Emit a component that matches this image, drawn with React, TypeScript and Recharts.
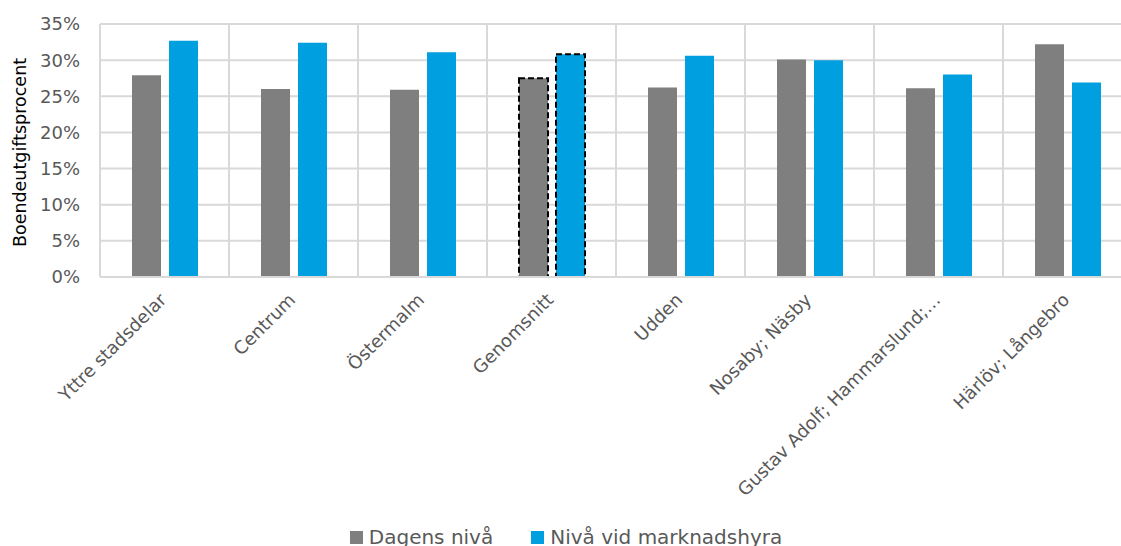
import React from "react";
import {
  BarChart,
  Bar,
  XAxis,
  YAxis,
  CartesianGrid,
  Legend,
  Cell,
} from "recharts";

// Districts along the category axis
const districts = [
  "Yttre stadsdelar",
  "Centrum",
  "Östermalm",
  "Genomsnitt",
  "Udden",
  "Nosaby; Näsby",
  "Gustav Adolf; Hammarslund;…",
  "Härlöv; Långebro",
];

// Housing cost share (%) at today's level
const dagensNiva = [27.9, 26.0, 25.9, 27.5, 26.2, 30.1, 26.1, 32.2];

// Housing cost share (%) at market rent
const marknadshyra = [32.7, 32.4, 31.1, 30.8, 30.6, 30.0, 28.0, 26.9];

const yTicks = [0, 5, 10, 15, 20, 25, 30, 35];

const highlighted = "Genomsnitt";

const seriesNames = ["Dagens nivå", "Nivå vid marknadshyra"];
const seriesColors = ["#7f7f7f", "#009fdf"];

const data = districts.map((name, i) => ({
  name,
  dagens: dagensNiva[i],
  marknad: marknadshyra[i],
}));

const FONT = "'DejaVu Sans', Verdana, sans-serif";

// Vertical grid lines sit on the category band edges, not the band centres
const bandEdges = (props: any) => {
  const { xAxis, offset } = props;
  const s = xAxis && xAxis.scale;
  const apply = (v: string): number | undefined => {
    if (!s) return undefined;
    if (typeof s === "function") return s(v);
    if (typeof s.map === "function") return s.map(v);
    if (typeof s.apply === "function") return s.apply(v);
    return undefined;
  };
  const bw =
    s && typeof s.bandwidth === "function" ? (s.bandwidth() as number) : undefined;
  const starts = districts.map((d) => apply(d));
  if (bw !== undefined && starts.every((p) => typeof p === "number" && isFinite(p))) {
    const st = starts as number[];
    return [...st, st[st.length - 1] + bw];
  }
  const step = offset.width / districts.length;
  return [
    ...districts.map((_, i) => offset.left + i * step),
    offset.left + offset.width,
  ];
};

const AngledTick = (props: any) => {
  const { x, y, payload } = props;
  const ax = x + 3;
  const ay = y + 16;
  return (
    <text
      x={ax}
      y={ay}
      transform={`rotate(-45 ${ax} ${ay})`}
      textAnchor="end"
      fill="#595959"
      fontSize={18}
      fontFamily={FONT}
    >
      {payload.value}
    </text>
  );
};

const LegendContent = () => (
  <div
    style={{
      display: "flex",
      justifyContent: "center",
      alignItems: "center",
      fontFamily: FONT,
      fontSize: 20,
      color: "#595959",
      lineHeight: "24px",
    }}
  >
    {seriesNames.map((n, i) => (
      <div
        key={n}
        style={{
          display: "flex",
          alignItems: "center",
          marginRight: i === 0 ? 38 : 0,
        }}
      >
        <span
          style={{
            display: "inline-block",
            width: 13,
            height: 13,
            background: seriesColors[i],
            marginRight: 6,
          }}
        />
        <span>{n}</span>
      </div>
    ))}
  </div>
);

export default function App() {
  return (
    <div
      style={{
        position: "absolute",
        left: 0,
        top: 0,
        width: 1121,
        height: 546,
        overflow: "hidden",
        background: "#fff",
      }}
    >
      <BarChart
        width={1140}
        height={560}
        data={data}
        margin={{ top: 24, right: 8, left: 0, bottom: 11 }}
        barSize={29}
        barGap={8}
      >
        <CartesianGrid
          stroke="#d9d9d9"
          strokeWidth={2}
          verticalCoordinatesGenerator={bandEdges}
        />
        <XAxis
          dataKey="name"
          interval={0}
          height={248}
          tickLine={false}
          axisLine={{ stroke: "#d9d9d9", strokeWidth: 2 }}
          tick={<AngledTick />}
        />
        <YAxis
          width={100}
          domain={[0, 35]}
          ticks={yTicks}
          tickFormatter={(v: number) => `${v}%`}
          axisLine={false}
          tickLine={false}
          tickMargin={14}
          tick={{ fill: "#595959", fontSize: 18, fontFamily: FONT }}
          label={{
            value: "Boendeutgiftsprocent",
            angle: -90,
            position: "insideLeft",
            dx: 15,
            dy: 2,
            style: {
              textAnchor: "middle",
              fill: "#000",
              fontSize: 17.5,
              fontFamily: FONT,
            },
          }}
        />
        <Legend verticalAlign="bottom" content={<LegendContent />} />
        <Bar dataKey="dagens" name={seriesNames[0]} fill={seriesColors[0]} isAnimationActive={false}>
          {data.map((d) => (
            <Cell
              key={d.name}
              fill={seriesColors[0]}
              stroke={d.name === highlighted ? "#000" : "none"}
              strokeWidth={d.name === highlighted ? 2 : 0}
              strokeDasharray={d.name === highlighted ? "6 3" : undefined}
            />
          ))}
        </Bar>
        <Bar dataKey="marknad" name={seriesNames[1]} fill={seriesColors[1]} isAnimationActive={false}>
          {data.map((d) => (
            <Cell
              key={d.name}
              fill={seriesColors[1]}
              stroke={d.name === highlighted ? "#000" : "none"}
              strokeWidth={d.name === highlighted ? 2 : 0}
              strokeDasharray={d.name === highlighted ? "6 3" : undefined}
            />
          ))}
        </Bar>
      </BarChart>
    </div>
  );
}
